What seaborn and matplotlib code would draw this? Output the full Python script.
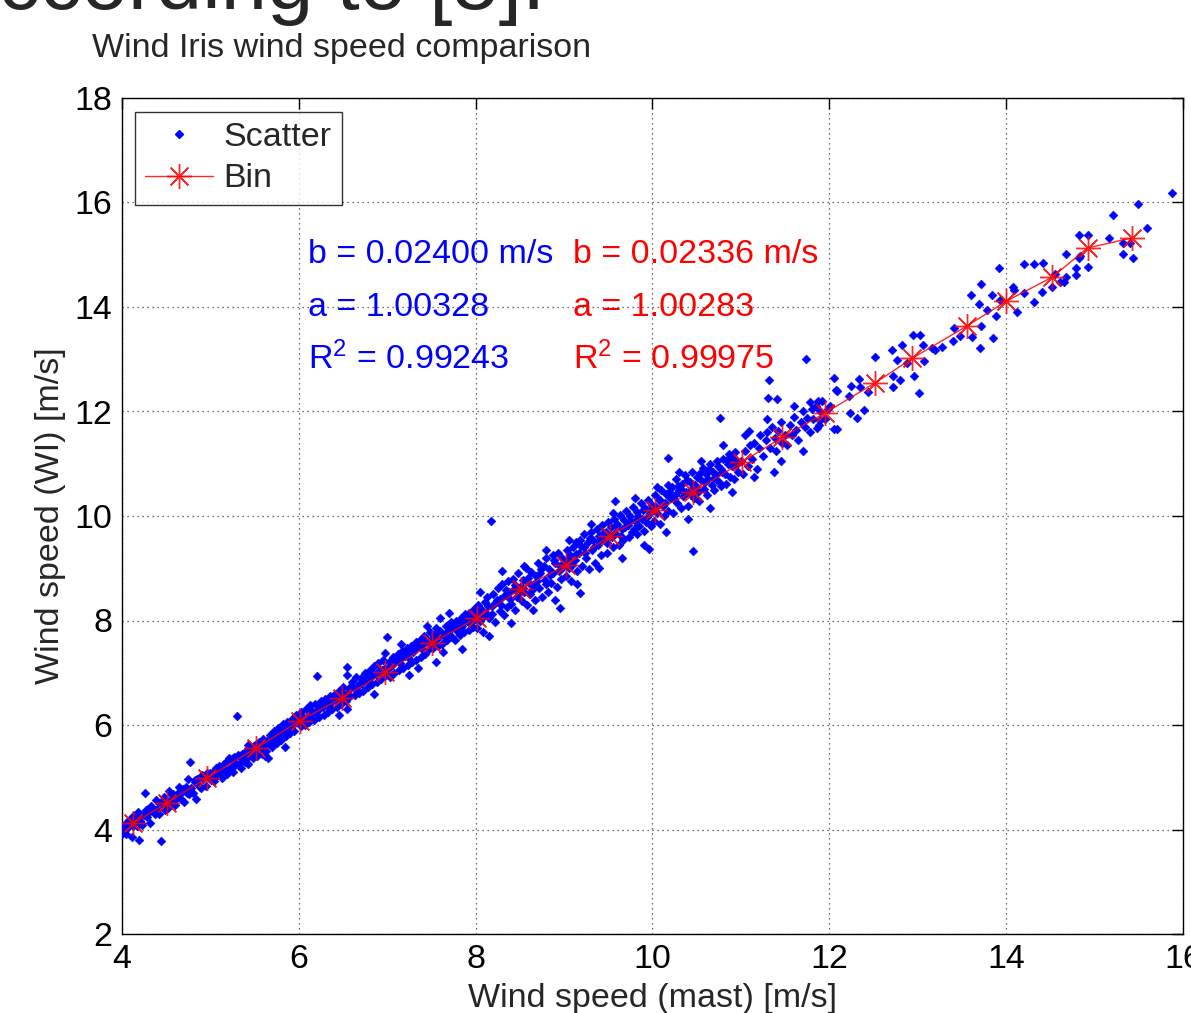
import numpy as np
import matplotlib
matplotlib.use("Agg")
import matplotlib.pyplot as plt
import seaborn as sns
from matplotlib.lines import Line2D

# ---------------- data ----------------
mast_a = [3.92, 3.95, 3.98, 4.00, 4.02, 4.04, 4.05, 4.07, 4.08, 4.10, 4.11, 4.12, 4.13, 4.15, 4.17, 4.18, 4.19,
          4.20, 4.22, 4.23, 4.25, 4.26, 4.27, 4.28, 4.30, 4.32, 4.33, 4.35, 4.37, 4.38, 4.40, 4.42, 4.44,
          4.45, 4.47, 4.48, 4.50, 4.52, 4.53, 4.55, 4.57, 4.58, 4.60, 4.62, 4.63, 4.65, 4.67, 4.68, 4.70,
          4.72, 4.74, 4.75, 4.77, 4.78, 4.80, 4.82, 4.84, 4.85, 4.87, 4.88, 4.90, 4.92, 4.95, 4.97, 4.99]
wi_a = [3.87, 3.85, 4.00, 3.92, 4.07, 3.92, 4.13, 4.05, 4.18, 4.10, 3.85, 4.06, 4.25, 4.19, 4.07, 4.33, 3.80,
        4.17, 4.28, 4.08, 4.27, 4.70, 4.37, 4.23, 4.33, 4.12, 4.45, 4.40, 4.29, 4.56, 4.40, 4.30, 3.78,
        4.53, 4.45, 4.62, 4.54, 4.42, 4.73, 4.57, 4.51, 4.68, 4.46, 4.68, 4.63, 4.81, 4.59, 4.72, 4.52,
        4.82, 4.70, 4.97, 5.29, 4.79, 4.70, 4.90, 4.58, 4.97, 4.85, 4.81, 5.05, 4.96, 4.83, 5.03, 5.09]

mast_b = [5.01, 5.03, 5.05, 5.06, 5.08, 5.10, 5.11, 5.13, 5.15, 5.16, 5.18, 5.20, 5.21, 5.23, 5.25, 5.27,
          5.28, 5.30, 5.31, 5.33, 5.35, 5.36, 5.38, 5.40, 5.42, 5.42, 5.43, 5.45, 5.47, 5.48, 5.50, 5.52,
          5.53, 5.55, 5.57, 5.58, 5.60, 5.62, 5.62, 5.63, 5.65, 5.67, 5.68, 5.70, 5.72, 5.73, 5.75, 5.77,
          5.78, 5.80, 5.82, 5.83, 5.84, 5.85, 5.87, 5.88, 5.90, 5.92, 5.93, 5.95, 5.97, 5.98]
wi_b = [4.95, 5.10, 5.00, 5.18, 5.04, 5.22, 5.08, 4.98, 5.25, 5.13, 5.30, 5.12, 5.36, 5.20, 5.10, 5.38,
        5.24, 6.17, 5.42, 5.28, 5.18, 5.45, 5.34, 5.50, 5.38, 5.62, 5.25, 5.55, 5.47, 5.36, 5.62, 5.50,
        5.40, 5.68, 5.55, 5.45, 5.74, 5.62, 5.40, 5.50, 5.36, 5.80, 5.68, 5.58, 5.88, 5.75, 5.65, 5.95,
        5.83, 5.72, 6.02, 5.90, 5.58, 5.78, 6.06, 5.95, 5.85, 6.12, 6.00, 5.88, 6.20, 6.06]

mast_c = [6.00, 6.02, 6.03, 6.05, 6.07, 6.08, 6.10, 6.12, 6.13, 6.15, 6.17, 6.18, 6.20, 6.22, 6.23, 6.25,
          6.27, 6.28, 6.30, 6.32, 6.33, 6.35, 6.37, 6.38, 6.40, 6.42, 6.43, 6.45, 6.45, 6.47, 6.48, 6.50,
          6.52, 6.53, 6.55, 6.55, 6.55, 6.57, 6.58, 6.60, 6.62, 6.63, 6.65, 6.67, 6.68, 6.70, 6.72, 6.73,
          6.75, 6.77, 6.78, 6.80, 6.82, 6.83, 6.85, 6.85, 6.87, 6.88, 6.90, 6.92, 6.93, 6.95, 6.97, 6.98, 6.99]
wi_c = [6.10, 5.98, 6.25, 6.12, 6.00, 6.30, 6.18, 6.05, 6.38, 6.22, 6.10, 6.40, 6.94, 6.28, 6.15, 6.45,
        6.35, 6.20, 6.50, 6.38, 6.25, 6.55, 6.45, 6.30, 6.58, 6.48, 6.35, 6.65, 6.20, 6.52, 6.40, 6.72,
        6.58, 6.45, 6.30, 6.95, 7.11, 6.68, 6.55, 6.82, 6.70, 6.58, 6.92, 6.75, 6.62, 6.90, 6.80, 6.65,
        7.00, 6.88, 6.72, 7.05, 6.92, 6.78, 7.12, 6.60, 6.98, 6.82, 7.18, 7.05, 6.88, 7.25, 7.10, 7.38, 6.95]

mast_d = [7.00, 7.00, 7.02, 7.03, 7.05, 7.07, 7.08, 7.10, 7.12, 7.13, 7.15, 7.17, 7.18, 7.20, 7.22, 7.23,
          7.25, 7.27, 7.28, 7.30, 7.32, 7.33, 7.35, 7.35, 7.37, 7.38, 7.40, 7.42, 7.43, 7.45, 7.47, 7.48,
          7.50, 7.52, 7.53, 7.55, 7.57, 7.58, 7.60, 7.60, 7.62, 7.63, 7.65, 7.67, 7.68, 7.70, 7.72, 7.73,
          7.75, 7.77, 7.78, 7.80, 7.82, 7.83, 7.85, 7.87, 7.88, 7.90, 7.92, 7.93, 7.95, 7.97, 7.98]
wi_d = [7.05, 7.69, 7.20, 6.92, 7.15, 7.30, 7.00, 7.22, 7.35, 7.05, 7.28, 7.42, 7.10, 7.32, 7.48, 7.15,
        7.38, 7.52, 7.20, 7.45, 7.58, 7.25, 7.50, 7.10, 7.62, 7.30, 7.55, 7.70, 7.35, 7.60, 7.45, 7.78,
        7.62, 7.48, 7.72, 7.85, 7.52, 7.68, 7.80, 8.05, 7.55, 7.40, 7.75, 7.90, 7.62, 7.82, 7.98, 7.68,
        7.88, 7.62, 8.00, 7.85, 7.72, 8.05, 7.95, 7.78, 8.12, 8.00, 7.82, 8.15, 8.05, 7.88, 8.22]

mast_e = [8.00, 8.02, 8.03, 8.05, 8.07, 8.08, 8.10, 8.12, 8.13, 8.15, 8.17, 8.18, 8.20, 8.22, 8.23, 8.25,
          8.27, 8.28, 8.30, 8.32, 8.33, 8.35, 8.37, 8.38, 8.40, 8.42, 8.43, 8.45, 8.47, 8.48, 8.50, 8.52,
          8.53, 8.55, 8.57, 8.58, 8.60, 8.62, 8.63, 8.65, 8.67, 8.68, 8.70, 8.72, 8.73, 8.75, 8.77, 8.78,
          8.80, 8.82, 8.83, 8.85, 8.87, 8.88, 8.90, 8.92, 8.93, 8.95, 8.95, 8.97, 8.98]
wi_e = [8.10, 7.85, 8.30, 8.00, 8.20, 7.78, 8.35, 8.15, 8.45, 8.05, 9.90, 8.28, 8.50, 7.98, 8.35, 8.62,
        8.18, 8.42, 8.70, 8.10, 8.48, 8.25, 8.75, 8.55, 8.32, 8.80, 8.60, 8.20, 8.45, 8.90, 8.65, 8.38,
        8.78, 8.55, 9.00, 8.30, 8.72, 8.50, 8.92, 8.68, 8.40, 8.85, 9.10, 8.62, 8.90, 8.45, 9.05, 8.78,
        9.20, 8.55, 8.98, 8.72, 9.25, 8.90, 9.10, 8.65, 9.30, 9.05, 8.24, 8.80, 9.20]

mast_f = [9.00, 9.02, 9.03, 9.05, 9.07, 9.08, 9.10, 9.12, 9.13, 9.15, 9.17, 9.18, 9.18, 9.20, 9.22, 9.23,
          9.25, 9.27, 9.28, 9.30, 9.32, 9.33, 9.35, 9.37, 9.38, 9.40, 9.42, 9.43, 9.45, 9.47, 9.48, 9.50,
          9.52, 9.53, 9.55, 9.57, 9.58, 9.58, 9.60, 9.62, 9.63, 9.65, 9.67, 9.68, 9.70, 9.72, 9.73, 9.75,
          9.77, 9.78, 9.80, 9.82, 9.83, 9.85, 9.87, 9.88, 9.90, 9.92, 9.93, 9.95, 9.96, 9.97, 9.98]
wi_f = [9.10, 8.85, 9.35, 9.00, 9.25, 8.75, 9.40, 9.15, 9.50, 8.95, 9.30, 8.53, 9.55, 9.05, 9.40, 9.65,
        9.20, 9.50, 8.98, 9.70, 9.35, 9.55, 9.10, 9.75, 9.45, 9.62, 9.25, 9.82, 9.55, 9.70, 9.30, 9.88,
        9.62, 9.78, 9.40, 9.95, 9.68, 10.29, 9.85, 9.45, 10.02, 9.75, 9.55, 9.92, 10.10, 9.82, 9.60, 10.00,
        9.70, 10.18, 9.90, 9.65, 10.08, 9.80, 10.25, 9.95, 9.72, 10.15, 9.88, 10.30, 9.37, 10.05, 9.80]

mast_g = [10.00, 10.02, 10.03, 10.05, 10.07, 10.08, 10.10, 10.12, 10.13, 10.15, 10.17, 10.18, 10.18, 10.20,
          10.22, 10.23, 10.25, 10.27, 10.28, 10.30, 10.32, 10.33, 10.35, 10.37, 10.38, 10.40, 10.42, 10.43,
          10.45, 10.46, 10.47, 10.48, 10.50, 10.52, 10.53, 10.55, 10.57, 10.58, 10.60, 10.62, 10.63, 10.65,
          10.67, 10.68, 10.70, 10.72, 10.73, 10.75, 10.76, 10.77, 10.78, 10.80, 10.82, 10.83, 10.85, 10.87,
          10.88, 10.90, 10.92, 10.93, 10.95, 10.97]
wi_g = [10.15, 9.90, 10.40, 10.05, 10.30, 9.85, 10.50, 10.20, 10.00, 10.42, 10.60, 10.10, 11.11, 10.35,
        10.55, 10.05, 10.40, 10.70, 10.25, 10.50, 10.15, 10.62, 10.38, 10.78, 10.45, 10.20, 10.65, 10.50,
        10.85, 9.33, 10.35, 10.60, 10.75, 10.45, 10.28, 10.68, 10.92, 10.52, 10.80, 10.40, 10.70, 11.00,
        10.60, 10.85, 10.50, 10.78, 11.05, 10.65, 11.88, 10.90, 10.58, 11.10, 10.80, 10.62, 11.00, 11.18,
        10.75, 10.95, 10.70, 11.22, 11.05, 10.85]

mast_h = [11.00, 11.02, 11.05, 11.08, 11.09, 11.10, 11.12, 11.15, 11.18, 11.20, 11.22, 11.25, 11.28, 11.30,
          11.31, 11.32, 11.33, 11.35, 11.37, 11.38, 11.40, 11.41, 11.42, 11.45, 11.47, 11.50, 11.52, 11.55,
          11.58, 11.60, 11.62, 11.65, 11.68, 11.70, 11.72, 11.74, 11.75, 11.78, 11.78, 11.80, 11.82, 11.85,
          11.86, 11.87, 11.88, 11.89, 11.90, 11.92, 11.95, 11.98]
wi_h = [11.05, 10.80, 11.25, 10.95, 11.63, 11.35, 11.10, 11.40, 10.90, 11.30, 11.55, 11.15, 11.45, 11.60,
        12.26, 12.60, 11.30, 11.70, 10.84, 11.50, 11.25, 12.24, 11.62, 11.80, 11.40, 11.55, 11.35, 11.75,
        11.55, 11.90, 11.65, 11.45, 11.80, 12.00, 11.70, 13.00, 11.88, 11.60, 12.19, 12.05, 11.85, 12.10,
        11.68, 12.21, 11.75, 11.83, 12.00, 12.20, 11.85, 12.05]

mast_i = [12.01, 12.05, 12.05, 12.08, 12.09, 12.09, 12.22, 12.23, 12.25, 12.31, 12.34, 12.35, 12.39, 12.44,
          12.52, 12.71, 12.72, 12.72, 12.77, 12.80, 12.82, 12.88, 12.95, 12.96, 13.01, 13.02, 13.06, 13.07,
          13.16, 13.20, 13.27, 13.40, 13.41, 13.48, 13.60, 13.61, 13.69, 13.70, 13.71, 13.72, 13.78, 13.84,
          13.85, 13.89, 13.92, 13.93, 14.08, 14.09, 14.12, 14.20, 14.20, 14.31, 14.31, 14.40, 14.42, 14.52,
          14.55, 14.61, 14.65, 14.68, 14.68, 14.79, 14.79, 14.82, 14.82, 14.84, 14.92, 14.93, 15.16, 15.21,
          15.32, 15.32, 15.40, 15.44, 15.49, 15.59, 15.88]
wi_i = [12.11, 12.65, 11.66, 12.42, 12.40, 11.66, 12.30, 11.98, 12.49, 11.87, 12.62, 12.46, 12.03, 12.38,
        13.05, 13.18, 12.67, 12.46, 12.99, 12.60, 13.27, 12.92, 13.46, 12.68, 12.35, 13.46, 13.27, 12.97,
        13.21, 13.18, 13.24, 13.34, 13.59, 13.45, 14.23, 13.43, 14.05, 13.22, 14.44, 13.64, 13.94, 14.23,
        13.40, 13.83, 14.75, 14.13, 14.39, 14.33, 13.91, 14.26, 14.82, 14.82, 14.09, 14.29, 14.84, 14.39,
        14.64, 14.48, 14.48, 14.58, 15.01, 14.61, 14.75, 14.93, 15.38, 14.98, 15.38, 14.77, 15.33, 15.76,
        15.01, 15.23, 15.23, 14.93, 15.98, 15.52, 16.18]

mast_j = [4.06, 4.14, 4.21, 4.29, 4.36, 4.43, 4.49, 4.56, 4.61, 4.69, 4.76, 4.83, 4.89, 4.96, 5.04, 5.09,
          5.14, 5.19, 5.24, 5.29, 5.34, 5.39, 5.44, 5.49, 5.54, 5.59, 5.64, 5.69, 5.74, 5.79, 5.86, 5.91,
          5.96, 6.04, 6.09, 6.14, 6.19, 6.24, 6.29, 6.34, 6.39, 6.44, 6.49, 6.54, 6.59, 6.64, 6.69, 6.74,
          6.79, 6.84, 6.89, 6.94, 7.04, 7.09, 7.14, 7.19, 7.24, 7.29, 7.34, 7.39, 7.44, 7.49, 7.54, 7.59,
          7.64, 7.69, 7.74, 7.79, 7.84, 7.89, 7.94, 7.99, 8.04, 8.09, 8.14, 8.19, 8.24, 8.29, 8.34, 8.39,
          8.44, 8.49, 8.54, 8.59, 8.64, 8.69, 8.74, 8.79, 8.84, 8.89, 8.94, 8.99, 9.04, 9.09, 9.14, 9.19,
          9.24, 9.29, 9.34, 9.39, 9.44, 9.49, 9.54, 9.59, 9.64, 9.69, 9.74, 9.79, 9.84, 9.89, 9.94, 9.99,
          10.04, 10.09, 10.14, 10.19, 10.24, 10.29, 10.34, 10.39, 10.44, 10.49, 10.54, 10.59, 10.64, 10.69,
          10.74, 10.79, 10.84, 10.89, 10.94]
wi_j = [4.02, 4.22, 4.12, 4.40, 4.33, 4.50, 4.38, 4.66, 4.58, 4.78, 4.68, 4.95, 4.80, 5.08, 4.92, 5.16,
        5.20, 5.06, 5.34, 5.28, 5.40, 5.30, 5.52, 5.60, 5.48, 5.66, 5.70, 5.62, 5.84, 5.88, 5.92, 5.96,
        6.05, 6.18, 6.14, 6.28, 6.24, 6.35, 6.42, 6.40, 6.48, 6.56, 6.62, 6.60, 6.75, 6.68, 6.80, 6.85,
        6.90, 6.98, 7.02, 7.06, 7.12, 7.26, 7.18, 7.40, 7.30, 7.40, 7.52, 7.45, 7.66, 7.55, 7.62, 7.74,
        7.70, 7.78, 7.92, 7.80, 7.90, 8.06, 7.95, 8.02, 8.15, 8.08, 8.28, 8.12, 8.40, 8.30, 8.58, 8.42,
        8.68, 8.52, 8.62, 8.82, 8.58, 8.76, 8.98, 8.70, 8.88, 9.15, 8.95, 9.02, 9.18, 9.06, 9.28, 9.42,
        9.30, 9.58, 9.40, 9.52, 9.68, 9.48, 9.60, 9.80, 9.62, 9.78, 9.90, 9.75, 10.00, 10.12, 9.98, 10.22,
        10.18, 10.30, 10.25, 10.45, 10.32, 10.58, 10.48, 10.68, 10.40, 10.55, 10.82, 10.65, 10.90, 10.72,
        10.95, 10.85, 11.08, 11.12, 10.98]

mast_k = [7.15, 7.25, 7.45, 7.55, 7.70, 7.85, 8.05, 8.15, 8.30, 8.40, 8.55, 8.65, 8.80, 8.90, 9.05, 9.15,
          9.30, 9.40, 9.55, 9.65, 9.80, 9.90, 10.05, 10.15, 10.30, 10.40, 10.55, 10.65, 10.80, 10.90, 11.05,
          11.15, 11.30, 11.45, 11.60, 11.70]
wi_k = [7.55, 6.95, 7.90, 7.20, 8.15, 7.45, 8.55, 7.70, 8.95, 7.95, 9.05, 8.20, 9.35, 8.40, 9.55, 8.70,
        9.85, 9.00, 10.05, 9.20, 10.35, 9.45, 10.55, 9.70, 10.85, 9.95, 11.05, 10.15, 11.35, 10.45, 11.55,
        10.75, 11.85, 11.05, 12.10, 11.25]

bin_x = [4.13, 4.51, 4.96, 5.52, 6.01, 6.49, 6.98, 7.51, 8.01, 8.51, 9.02, 9.52, 10.03, 10.46,
         11.01, 11.47, 11.95, 12.52, 12.94, 13.56, 14.00, 14.52, 14.92, 15.42]
bin_y = [4.12, 4.51, 4.99, 5.56, 6.08, 6.52, 7.01, 7.57, 8.05, 8.60, 9.06, 9.62, 10.11, 10.46,
         11.03, 11.51, 11.97, 12.55, 13.02, 13.64, 14.11, 14.57, 15.13, 15.32]

x_ticks = [4, 6, 8, 10, 12, 14, 16]
y_ticks = [2, 4, 6, 8, 10, 12, 14, 16, 18]

blue_lines = ["b = 0.02400 m/s", "a = 1.00328", "R$^2$ = 0.99243"]
red_lines = ["b = 0.02336 m/s", "a = 1.00283", "R$^2$ = 0.99975"]

# ---------------- style ----------------
sns.set_style("white")
plt.rcParams["font.family"] = ["Liberation Sans", "DejaVu Sans"]
plt.rcParams["mathtext.fontset"] = "custom"
plt.rcParams["mathtext.rm"] = "Liberation Sans"
plt.rcParams["mathtext.it"] = "Liberation Sans"

FS = 24.5
W, H = 1191, 1013
fig = plt.figure(figsize=(W / 100, H / 100), dpi=100)
ax = fig.add_axes([122 / W, 79 / H, (1183 - 122) / W, (934 - 98) / H])

mast = np.concatenate([mast_a, mast_b, mast_c, mast_d, mast_e, mast_f, mast_g, mast_h, mast_i,
                       mast_j, mast_k])
wi = np.concatenate([wi_a, wi_b, wi_c, wi_d, wi_e, wi_f, wi_g, wi_h, wi_i, wi_j, wi_k])

sns.scatterplot(x=mast, y=wi, ax=ax, marker="D", s=20, color=(0, 0, 1),
                edgecolor=(0, 0, 1), linewidth=0.4, zorder=3, legend=False)
sns.lineplot(x=bin_x, y=bin_y, ax=ax, sort=False, estimator=None, color=(1, 0, 0),
             linewidth=1.0, marker=(8, 2, 0), markersize=18, markeredgecolor=(1, 0, 0),
             markeredgewidth=1.0, alpha=0.85, zorder=4, legend=False)

ax.set_xlim(4, 16)
ax.set_ylim(2, 18)
ax.set_xticks(x_ticks)
ax.set_yticks(y_ticks)
ax.set_xticklabels([str(t) for t in x_ticks])
ax.set_yticklabels([str(t) for t in y_ticks])
ax.tick_params(direction="in", length=8, width=1, labelsize=FS, top=True, right=True,
               colors="black", pad=7)
ax.grid(True, color="0.25", linestyle=(0, (1, 3)), linewidth=0.9)
for sp in ax.spines.values():
    sp.set_color("black")
    sp.set_linewidth(1.0)

ax.set_xlabel("Wind speed (mast) [m/s]", fontsize=FS, labelpad=6)
ax.set_ylabel("Wind speed (WI) [m/s]", fontsize=FS, labelpad=6)

# annotations
for i, (tb, tr) in enumerate(zip(blue_lines, red_lines)):
    yv = 15 - i
    ax.text(6.1, yv, tb, color=(0, 0, 1), fontsize=FS, va="center", ha="left", zorder=5)
    ax.text(9.1, yv, tr, color=(1, 0, 0), fontsize=FS, va="center", ha="left", zorder=5)

# legend
handles = [
    Line2D([], [], linestyle="none", marker="D", markersize=4, color=(0, 0, 1)),
    Line2D([], [], color=(1, 0, 0), linewidth=1.0, marker=(8, 2, 0), markersize=18,
           markeredgecolor=(1, 0, 0), alpha=0.85),
]
leg = ax.legend(handles, ["Scatter", "Bin"], loc="upper left",
                bbox_to_anchor=((135 - 122) / 1061, (934 - 112) / 836),
                fontsize=FS, frameon=True, fancybox=False, borderpad=0.3,
                labelspacing=0.3, handlelength=2.0, handletextpad=0.3,
                borderaxespad=0.0)
leg.get_frame().set_edgecolor("black")
leg.get_frame().set_linewidth(1.0)
leg.set_zorder(10)

# title and slide text above
fig.text(342 / W, 1 - 48 / H, "Wind Iris wind speed comparison", fontsize=FS,
         ha="center", va="center")
fig.text(545 / W, 1 - 9 / H, "according to [5].", fontsize=60, ha="right", va="baseline")

fig.savefig("out.png", dpi=100)
